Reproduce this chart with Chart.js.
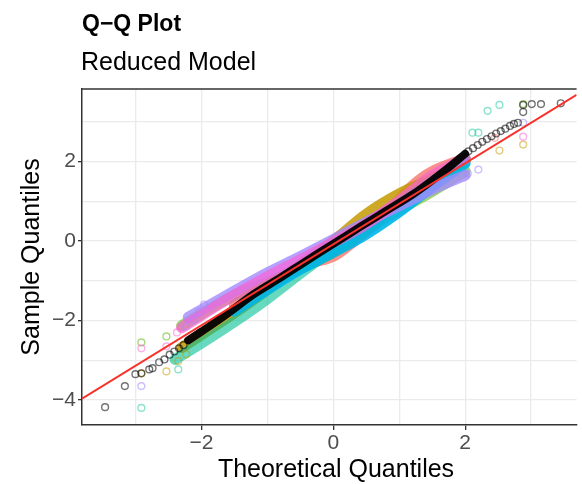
<!DOCTYPE html>
<html><head><meta charset="utf-8">
<script src="https://cdn.jsdelivr.net/npm/chart.js@4"></script>
<style>html,body{margin:0;padding:0;background:#fff;}canvas{display:block;}</style>
</head><body>
<canvas id="c" width="582" height="484"></canvas>
<script>
// ---- axis ranges & reference line ----
const xRange = [-3.81, 3.69];
const yRange = [-4.63, 3.83];
const qqIntercept = -0.08;
const qqSlope = 1.02;
const tickValues = [-4, -3, -2, -1, 0, 1, 2, 3];

// ---- dense central part of each sample's Q-Q curve ([theoretical, sample]) ----
const blackBand  = [[-2.2,-2.50],[-2.0,-2.28],[-1.6,-1.82],[-1.2,-1.33],[-0.8,-0.92],[-0.4,-0.49],[0,-0.07],[0.4,0.35],[0.8,0.76],[1.2,1.17],[1.5,1.53],[1.8,1.92],[2.0,2.2]];
const purpleBand = [[-2.2,-1.92],[-1.5,-1.26],[-1.0,-0.80],[-0.5,-0.39],[0,0.04],[0.5,0.48],[1.0,0.89],[1.5,1.30],[2.0,1.66]];
const pinkBand   = [[-2.3,-2.18],[-1.5,-1.36],[-1.0,-0.90],[-0.5,-0.47],[0,-0.03],[0.5,0.43],[1.0,1.02],[1.5,1.65],[2.0,2.08]];
const greenBand  = [[-2.3,-2.13],[-1.5,-1.36],[-1.0,-1.05],[-0.5,-0.69],[0,-0.28],[0.5,0.28],[1.0,0.79],[1.5,1.25],[2.0,1.76]];
const mintBand   = [[-2.4,-2.98],[-2.0,-2.57],[-1.5,-2.03],[-1.0,-1.45],[-0.5,-0.81],[0,-0.20],[0.5,0.38],[1.0,0.94],[1.5,1.50],[2.0,2.08]];
const goldBand   = [[-2.3,-2.68],[-1.5,-1.81],[-1.0,-1.22],[-0.5,-0.59],[0,0.0],[0.5,0.68],[1.0,1.19],[1.5,1.57],[2.0,2.01]];
const cyanBand   = [[-1.5,-1.76],[-1.0,-1.22],[-0.5,-0.71],[0,-0.28],[0.5,0.18],[1.0,0.74],[1.5,1.37],[2.0,1.96]];
const salmonBand = [[-1.5,-1.61],[-0.5,-0.64],[0,-0.38],[0.3,-0.02],[0.8,0.69],[1.2,1.39],[1.5,1.75],[2.0,2.08]];

// ---- sparse tail points ----
const blackTail  = [[-3.46,-4.18],[-3.16,-3.65],[-3.0,-3.35],[-2.91,-3.33],[-2.79,-3.23],[-2.74,-3.2],[-2.64,-3.05],[-2.56,-2.98],[-2.48,-2.86],[-2.41,-2.78],[-2.34,-2.7],[-2.27,-2.62],
                    [2.05,2.26],[2.12,2.34],[2.19,2.42],[2.26,2.5],[2.33,2.57],[2.4,2.64],[2.47,2.71],[2.54,2.77],[2.61,2.83],[2.68,2.9],[2.74,2.95],[2.8,2.98],
                    [2.88,3.25],[2.88,3.43],[3.01,3.45],[3.15,3.45],[3.45,3.47]];
const purpleTail = [[-2.91,-3.65],[-2.23,-2.15],[-2.11,-1.98],[-2.04,-1.78],[-1.96,-1.6],[2.04,1.7],[2.2,1.8],[2.88,2.98]];
const pinkTail   = [[-2.91,-2.7],[-2.53,-2.65],[-2.37,-2.3],[2.88,2.63]];
const greenTail  = [[-2.91,-2.55],[-2.53,-2.4],[2.88,3.45]];
const mintTail   = [[-2.91,-4.2],[-2.35,-3.23],[2.11,2.73],[2.2,2.73],[2.34,3.28],[2.52,3.43]];
const goldTail   = [[-2.91,-3.33],[-2.53,-3.28],[-2.35,-3.02],[-2.23,-2.85],[2.52,2.28],[2.88,2.43]];
const salmonTail = [[2.45,2.6]];

const toXY = arr => arr.map(p => ({x: p[0], y: p[1]}));

function band(arr, color, w) {
  return {type: 'line', data: toXY(arr), borderColor: color, borderWidth: w || 11, pointRadius: 0,
          tension: 0.35, fill: false, borderCapStyle: 'round', borderJoinStyle: 'round'};
}
function tail(arr, color) {
  return {type: 'scatter', data: toXY(arr), pointRadius: 3.4, pointBorderWidth: 1.4,
          pointBackgroundColor: 'rgba(0,0,0,0)', pointBorderColor: color, showLine: false};
}

const datasets = [
  {type: 'line', data: [{x: xRange[0], y: qqIntercept + qqSlope * xRange[0]}, {x: xRange[1], y: qqIntercept + qqSlope * xRange[1]}],
   borderColor: '#F8312A', borderWidth: 2, pointRadius: 0, fill: false},
  band(blackBand, 'rgba(0,0,0,0.95)', 8),
  tail(blackTail, 'rgba(0,0,0,0.55)'),
  tail(purpleTail, 'rgba(165,138,255,0.55)'),
  tail(pinkTail, 'rgba(251,97,215,0.5)'),
  tail(greenTail, 'rgba(83,180,0,0.5)'),
  tail(mintTail, 'rgba(0,192,148,0.45)'),
  tail(goldTail, 'rgba(196,154,0,0.5)'),
  tail(salmonTail, 'rgba(248,118,109,0.5)'),
  band(pinkBand, 'rgba(251,97,215,0.7)'),
  band(purpleBand, 'rgba(165,138,255,0.8)'),
  band(cyanBand, 'rgba(0,182,235,0.9)'),
  band(mintBand, 'rgba(0,192,148,0.6)'),
  band(greenBand, 'rgba(83,180,0,0.55)'),
  band(goldBand, 'rgba(196,154,0,0.85)'),
  band(salmonBand, 'rgba(248,118,109,0.8)')
];

const FONT = '"Liberation Sans", Arial, sans-serif';
const fmt = v => (v % 2 === 0 ? String(v).replace('-', '\u2212') : '');

const textPlugin = {
  id: 'texts',
  afterDraw(chart) {
    const ctx = chart.ctx, a = chart.chartArea;
    ctx.save();
    ctx.strokeStyle = '#333333'; ctx.lineWidth = 1.5;
    ctx.beginPath(); ctx.moveTo(a.left, a.top); ctx.lineTo(a.right, a.top); ctx.stroke();
    ctx.fillStyle = '#000';
    ctx.textAlign = 'left'; ctx.textBaseline = 'alphabetic';
    ctx.font = 'bold 23px ' + FONT;
    ctx.fillText('Q\u2212Q Plot', 82, 31);
    ctx.font = '25px ' + FONT;
    ctx.fillText('Reduced Model', 81, 70);
    ctx.textAlign = 'center';
    ctx.font = '25px ' + FONT;
    ctx.fillText('Theoretical Quantiles', 336, 477);
    ctx.translate(39, 257);
    ctx.rotate(-Math.PI / 2);
    ctx.fillText('Sample Quantiles', 0, 0);
    ctx.restore();
  }
};

new Chart(document.getElementById('c'), {
  type: 'scatter',
  data: {datasets},
  options: {
    responsive: false, animation: false, devicePixelRatio: 1,
    layout: {padding: {top: 89, right: 0, left: 0, bottom: 0}},
    plugins: {legend: {display: false}, tooltip: {enabled: false}, title: {display: false}},
    scales: {
      x: {type: 'linear', min: xRange[0], max: xRange[1],
          afterBuildTicks: s => { s.ticks = tickValues.filter(v => v >= xRange[0] && v <= xRange[1]).map(v => ({value: v})); },
          afterFit: s => { s.height = 59; },
          ticks: {callback: fmt, color: '#4D4D4D', font: {family: FONT, size: 21}, padding: 1, maxRotation: 0, autoSkip: false},
          grid: {color: '#EBEBEB', lineWidth: 1.3, tickLength: 5, tickColor: c => (c.tick && c.tick.value % 2 === 0 ? '#333333' : 'rgba(0,0,0,0)')},
          border: {display: true, color: '#333333', width: 1.5}},
      y: {type: 'linear', min: yRange[0], max: yRange[1],
          afterBuildTicks: s => { s.ticks = tickValues.filter(v => v >= yRange[0] && v <= yRange[1]).map(v => ({value: v})); },
          afterFit: s => { s.width = 82; },
          ticks: {callback: fmt, color: '#4D4D4D', font: {family: FONT, size: 21}, padding: 2, autoSkip: false},
          grid: {color: '#EBEBEB', lineWidth: 1.3, tickLength: 4, tickColor: c => (c.tick && c.tick.value % 2 === 0 ? '#333333' : 'rgba(0,0,0,0)')},
          border: {display: true, color: '#333333', width: 1.5}}
    }
  },
  plugins: [textPlugin]
});
</script>
</body></html>
